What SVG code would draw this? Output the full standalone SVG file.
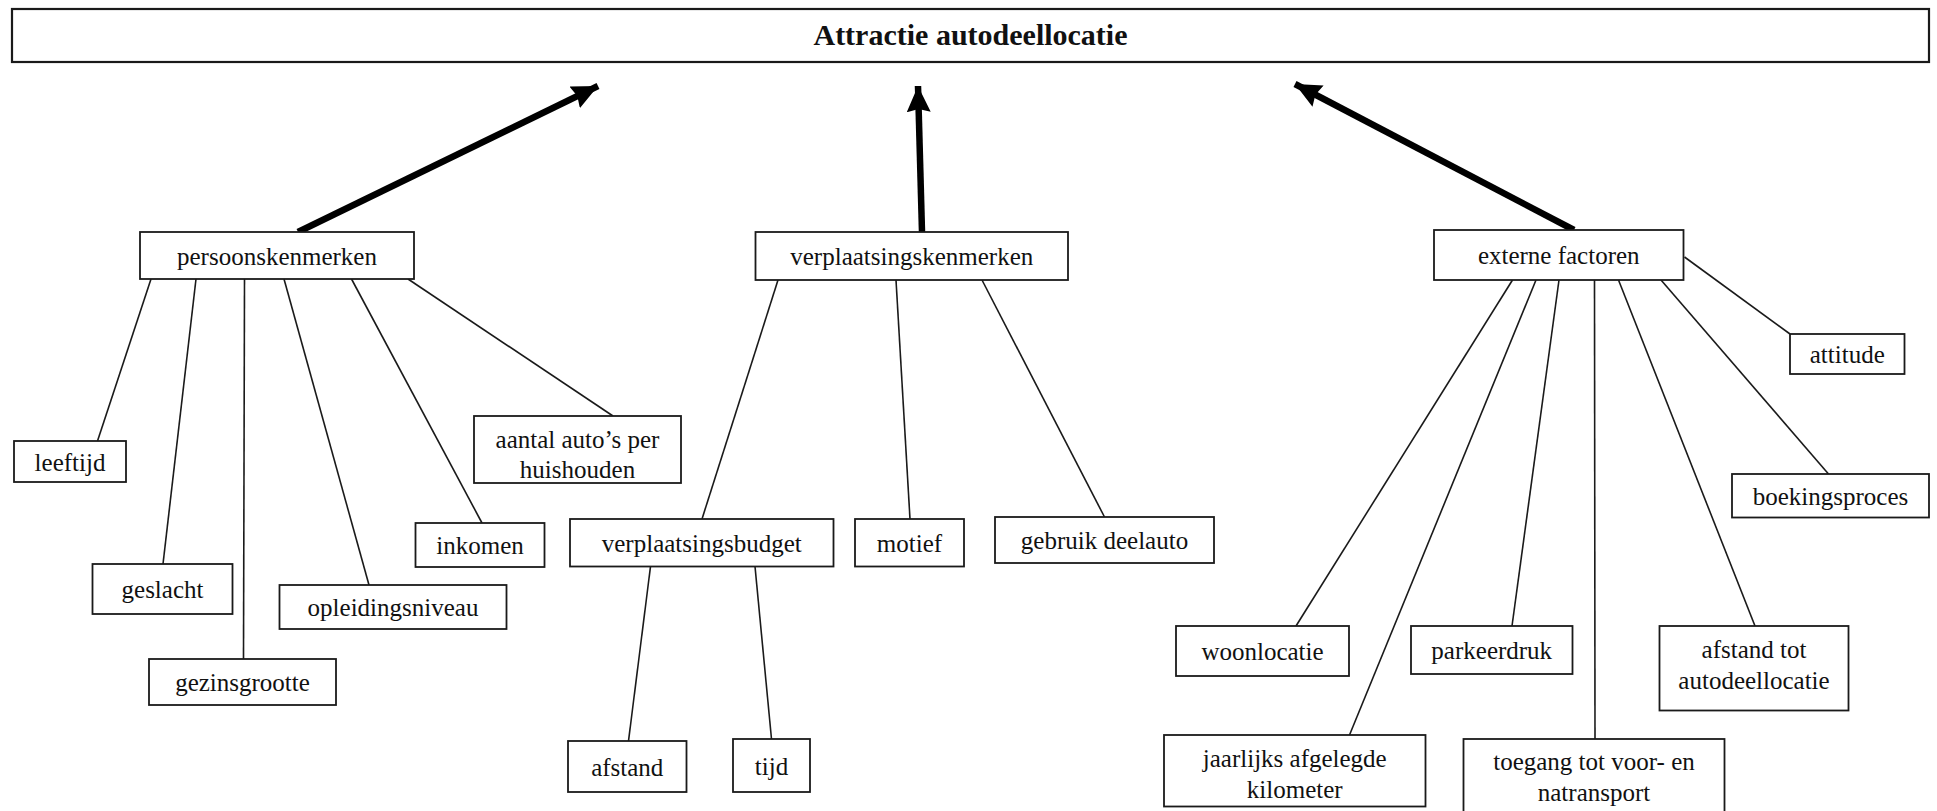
<svg xmlns="http://www.w3.org/2000/svg" width="1937" height="811" viewBox="0 0 1937 811">
  <style>
    .box { fill: #ffffff; stroke: #1a1a1a; stroke-width: 1.8; }
    .title-box { fill: #ffffff; stroke: #1a1a1a; stroke-width: 2.2; }
    .lbl { font-family: "Liberation Serif", "Times New Roman", serif; font-size: 25px; fill: #111111; text-anchor: middle; }
    .title { font-family: "Liberation Serif", "Times New Roman", serif; font-size: 30px; font-weight: bold; fill: #111111; text-anchor: middle; }
    .link { stroke: #1a1a1a; stroke-width: 1.6; fill: none; }
    .main { stroke: #000000; stroke-width: 6.5; fill: none; marker-end: url(#head); }
  </style>
  <defs>
    <marker id="head" markerUnits="userSpaceOnUse" markerWidth="28" markerHeight="24" refX="26" refY="12" orient="auto">
      <path d="M0,0 L26,12 L0,24 L3,12 z" fill="#000000"/>
    </marker>
  </defs>

  <rect width="1937" height="811" fill="#ffffff"/>

  <!-- connectors -->
  <g id="connectors">
    <!-- thick arrows into the main factor -->
    <line class="main" x1="298" y1="232" x2="598" y2="86"/>
    <line class="main" x1="922" y1="232" x2="918" y2="86"/>
    <line class="main" x1="1574" y1="230" x2="1295" y2="84"/>

    <!-- persoonskenmerken -->
    <line class="link" x1="151" y1="279" x2="97.5" y2="441"/>
    <line class="link" x1="196" y1="279" x2="163" y2="564"/>
    <line class="link" x1="244.5" y1="279" x2="243.5" y2="659"/>
    <line class="link" x1="284" y1="279" x2="369" y2="585"/>
    <line class="link" x1="351.5" y1="279" x2="482" y2="523"/>
    <line class="link" x1="408" y1="279" x2="613" y2="416"/>

    <!-- verplaatsingskenmerken -->
    <line class="link" x1="778" y1="280" x2="702" y2="519"/>
    <line class="link" x1="896" y1="280" x2="910" y2="519"/>
    <line class="link" x1="982" y1="280" x2="1104.5" y2="517"/>

    <!-- verplaatsingsbudget -->
    <line class="link" x1="650.5" y1="566.5" x2="628.5" y2="741"/>
    <line class="link" x1="755" y1="566.5" x2="771.5" y2="739"/>

    <!-- externe factoren -->
    <line class="link" x1="1684.5" y1="257" x2="1790" y2="334"/>
    <line class="link" x1="1661" y1="280" x2="1828.5" y2="474"/>
    <line class="link" x1="1512.5" y1="280" x2="1296" y2="626"/>
    <line class="link" x1="1536" y1="280" x2="1349.5" y2="735"/>
    <line class="link" x1="1559" y1="280" x2="1512" y2="626"/>
    <line class="link" x1="1594.5" y1="280" x2="1595" y2="739"/>
    <line class="link" x1="1618.5" y1="280" x2="1755" y2="626"/>
  </g>

  <!-- main factor -->
  <g id="attractie">
    <rect class="title-box" x="12" y="9" width="1917" height="53"/>
    <text class="title" x="970.5" y="45">Attractie autodeellocatie</text>
  </g>

  <!-- personal characteristics -->
  <g id="persoonskenmerken">
    <rect class="box" x="140" y="232" width="274" height="47"/>
    <text class="lbl" x="277" y="264.5">persoonskenmerken</text>
  </g>
  <g id="leeftijd">
    <rect class="box" x="14" y="441" width="112" height="41"/>
    <text class="lbl" x="70" y="471">leeftijd</text>
  </g>
  <g id="geslacht">
    <rect class="box" x="92.5" y="564" width="140" height="50"/>
    <text class="lbl" x="162.5" y="598">geslacht</text>
  </g>
  <g id="gezinsgrootte">
    <rect class="box" x="149" y="659" width="187" height="46"/>
    <text class="lbl" x="242.5" y="691">gezinsgrootte</text>
  </g>
  <g id="opleidingsniveau">
    <rect class="box" x="279.5" y="585" width="227" height="44"/>
    <text class="lbl" x="393" y="616">opleidingsniveau</text>
  </g>
  <g id="inkomen">
    <rect class="box" x="415.5" y="523" width="129" height="44"/>
    <text class="lbl" x="480" y="554">inkomen</text>
  </g>
  <g id="autobezit">
    <rect class="box" x="474" y="416" width="207" height="67"/>
    <text class="lbl" x="577.5" y="448">aantal auto’s per</text>
    <text class="lbl" x="577.5" y="478">huishouden</text>
  </g>

  <!-- travel characteristics -->
  <g id="verplaatsingskenmerken">
    <rect class="box" x="755.5" y="232" width="312.5" height="48"/>
    <text class="lbl" x="911.75" y="265">verplaatsingskenmerken</text>
  </g>
  <g id="verplaatsingsbudget">
    <rect class="box" x="570" y="519" width="263.5" height="47.5"/>
    <text class="lbl" x="701.75" y="551.5">verplaatsingsbudget</text>
  </g>
  <g id="motief">
    <rect class="box" x="855" y="519" width="109" height="47.5"/>
    <text class="lbl" x="909.5" y="551.5">motief</text>
  </g>
  <g id="gebruik-deelauto">
    <rect class="box" x="995" y="517" width="219" height="46"/>
    <text class="lbl" x="1104.5" y="549">gebruik deelauto</text>
  </g>
  <g id="afstand">
    <rect class="box" x="568" y="741" width="118.5" height="51"/>
    <text class="lbl" x="627.25" y="775.5">afstand</text>
  </g>
  <g id="tijd">
    <rect class="box" x="733" y="739" width="77" height="53"/>
    <text class="lbl" x="771.5" y="774.5">tijd</text>
  </g>

  <!-- external factors -->
  <g id="externe-factoren">
    <rect class="box" x="1434" y="230" width="249.5" height="50"/>
    <text class="lbl" x="1558.75" y="264">externe factoren</text>
  </g>
  <g id="attitude">
    <rect class="box" x="1790" y="334" width="114.5" height="40"/>
    <text class="lbl" x="1847.25" y="363">attitude</text>
  </g>
  <g id="boekingsproces">
    <rect class="box" x="1732" y="474" width="197" height="43.5"/>
    <text class="lbl" x="1830.5" y="505">boekingsproces</text>
  </g>
  <g id="woonlocatie">
    <rect class="box" x="1176" y="626" width="173" height="50"/>
    <text class="lbl" x="1262.5" y="660">woonlocatie</text>
  </g>
  <g id="parkeerdruk">
    <rect class="box" x="1411" y="626" width="161.5" height="48"/>
    <text class="lbl" x="1491.75" y="659">parkeerdruk</text>
  </g>
  <g id="afstand-autodeellocatie">
    <rect class="box" x="1659.5" y="626" width="189" height="84.5"/>
    <text class="lbl" x="1754" y="658">afstand tot</text>
    <text class="lbl" x="1754" y="689">autodeellocatie</text>
  </g>
  <g id="jaarkilometers">
    <rect class="box" x="1164" y="735" width="261.5" height="71.5"/>
    <text class="lbl" x="1294.75" y="767">jaarlijks afgelegde</text>
    <text class="lbl" x="1294.75" y="798">kilometer</text>
  </g>
  <g id="voor-natransport">
    <rect class="box" x="1463.5" y="739" width="261" height="75"/>
    <text class="lbl" x="1594" y="770">toegang tot voor- en</text>
    <text class="lbl" x="1594" y="801">natransport</text>
  </g>
</svg>
